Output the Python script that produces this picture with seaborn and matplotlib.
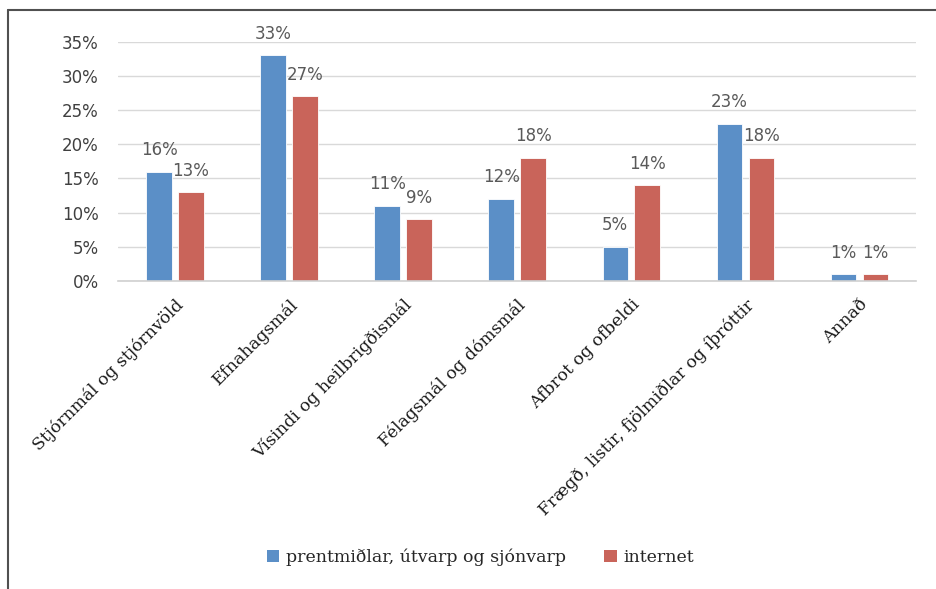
import matplotlib
matplotlib.use("Agg")
import matplotlib.pyplot as plt
from matplotlib.lines import Line2D
from matplotlib.patches import Patch
import seaborn as sns
import pandas as pd

# --- data ---
categories = ['Stjórnmál og stjórnvöld', 'Efnahagsmál', 'Vísindi og heilbrigðismál',
              'Félagsmál og dómsmál', 'Afbrot og ofbeldi',
              'Frægð, listir, fjölmiðlar og íþróttir', 'Annað']
series = ['prentmiðlar, útvarp og sjónvarp', 'internet']
print_vals = [0.16, 0.33, 0.11, 0.12, 0.05, 0.23, 0.01]
web_vals = [0.13, 0.27, 0.09, 0.18, 0.14, 0.18, 0.01]
yticks = [0, 0.05, 0.10, 0.15, 0.20, 0.25, 0.30, 0.35]

colors = ['#5B8FC7', '#C9645A']

df = pd.DataFrame({
    'Flokkur': categories * 2,
    'Miðill': [series[0]] * len(categories) + [series[1]] * len(categories),
    'Hlutfall': print_vals + web_vals,
})

sns.set_style("white")
fig = plt.figure(figsize=(9.37, 5.89), dpi=100)
ax = fig.add_axes([0.126, 0.523, 0.852, 0.406])

sns.barplot(data=df, x='Flokkur', y='Hlutfall', hue='Miðill', palette=colors,
            width=0.56, gap=0.2, ax=ax, legend=False, saturation=1,
            edgecolor='white', linewidth=0.6)

# data labels
for cont, vals in zip(ax.containers, [print_vals, web_vals]):
    ax.bar_label(cont, labels=[f'{round(v * 100)}%' for v in vals], padding=9,
                 fontsize=12, color='#595959', family='DejaVu Sans')

ax.set_ylim(0, 0.35)
ax.set_yticks(yticks)
ax.set_yticklabels([f'{round(t * 100)}%' for t in yticks], fontsize=12,
                   color='#404040', family='DejaVu Sans')
ax.yaxis.grid(True, color='#D9D9D9', linewidth=1)
ax.set_axisbelow(True)
ax.tick_params(axis='y', length=0, pad=14)
ax.tick_params(axis='x', length=0, pad=11)
ax.set_xticks(range(len(categories)))
ax.set_xticklabels(categories, rotation=45, ha='right', rotation_mode='anchor',
                   fontsize=12.3, family='DejaVu Serif', color='#1a1a1a')
ax.set_xlabel('')
ax.set_ylabel('')
for side in ['top', 'right', 'left']:
    ax.spines[side].set_visible(False)
ax.spines['bottom'].set_color('#D0D0D0')
ax.spines['bottom'].set_linewidth(1.2)

# legend
handles = [Patch(facecolor=c, edgecolor='none') for c in colors]
fig.legend(handles, series, loc='center', bbox_to_anchor=(0.513, 0.054), ncol=2,
           frameon=False, prop={'family': 'DejaVu Serif', 'size': 12.5},
           handlelength=0.7, handleheight=0.7, handletextpad=0.4, columnspacing=2.2)

# outer frame (top and left edges visible)
fig.add_artist(Line2D([8.5 / 937, 1.0], [1 - 10 / 589, 1 - 10 / 589],
                      color='#505050', linewidth=1.5, transform=fig.transFigure))
fig.add_artist(Line2D([8.5 / 937, 8.5 / 937], [0, 1 - 10 / 589],
                      color='#505050', linewidth=1.5, transform=fig.transFigure))

fig.savefig('out.png', dpi=100)
